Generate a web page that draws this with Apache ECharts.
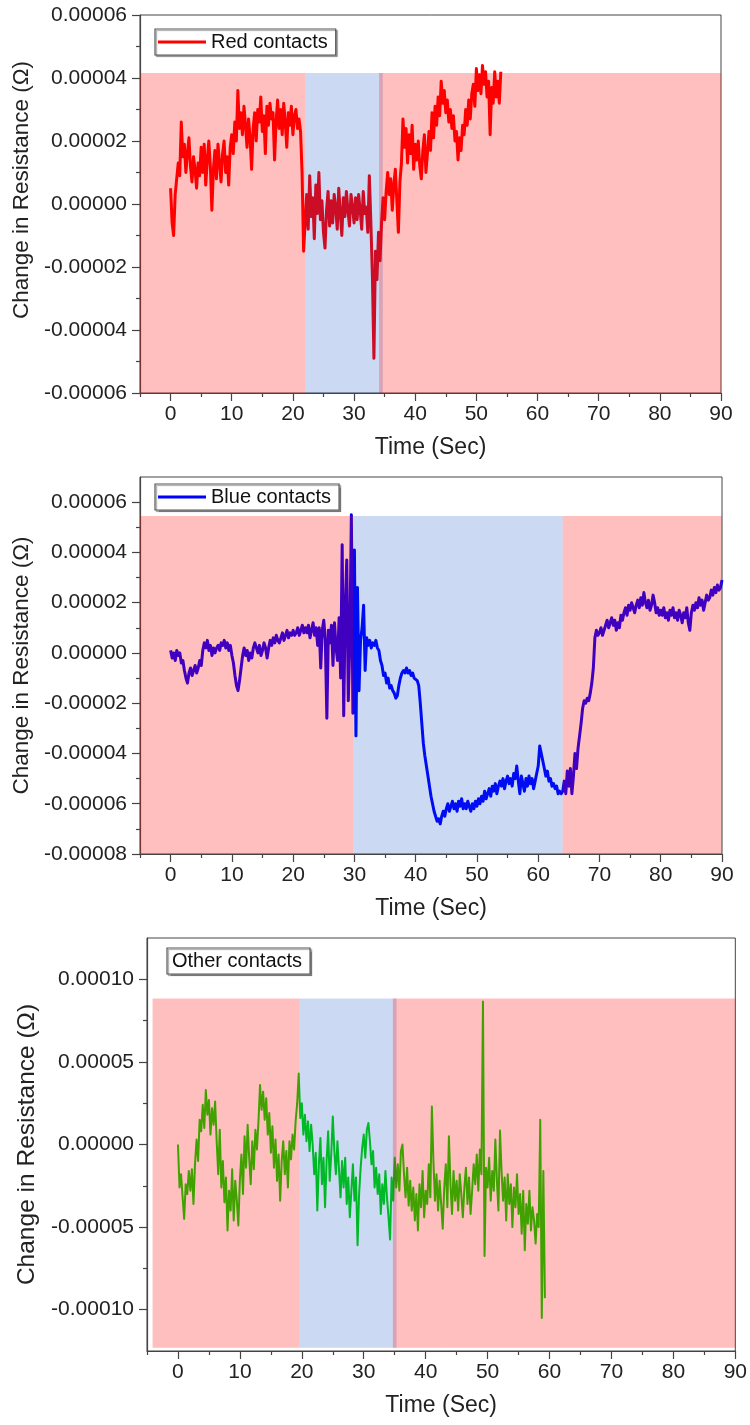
<!DOCTYPE html>
<html><head><meta charset="utf-8">
<script src="https://cdn.jsdelivr.net/npm/echarts@6/dist/echarts.min.js"></script>
<style>html,body{margin:0;padding:0;background:#fff}#c{width:750px;height:1425px}</style>
</head><body><div id="c"></div>
<script>
// All resistance values are in units of 1e-5 Ohm (axis labels convert to Ohm).
const xTicks = [0, 10, 20, 30, 40, 50, 60, 70, 80, 90];
const xMinor = [-5, 5, 15, 25, 35, 45, 55, 65, 75, 85];
const y1Ticks = [-6, -4, -2, 0, 2, 4, 6];
const y1Minor = [-5, -3, -1, 1, 3, 5];
const y2Ticks = [-8, -6, -4, -2, 0, 2, 4, 6];
const y2Minor = [-7, -5, -3, -1, 1, 3, 5];
const y3Ticks = [-10, -5, 0, 5, 10];
const y3Minor = [-7.5, -2.5, 2.5, 7.5];

// sampling step in seconds (first sample at t = 0)
const redStep = 0.25;
const redValues = [
  0.5, -0.6, -1.0, 0.3, 0.8,
  1.3, 0.9, 2.6, 1.5,
  1.9, 1.0, 1.6, 2.1, 1.2, 0.7, 1.5, 1.1, 0.5, 1.3, 0.9, 1.8,
  1.0, 1.9, 0.6, 1.4, 2.0, 1.2, -0.2, 1.1,
  1.7, 0.8, 1.9, 1.3, 0.7, 1.6, 2.0, 1.0, 1.5, 0.6, 1.8,
  2.2, 1.6, 2.6, 2.0, 3.6,
  2.4, 2.9, 2.2, 3.1, 2.5, 1.8, 2.7, 2.1,
  1.1, 2.4, 2.9, 2.0, 3.0, 2.6, 3.4, 2.3,
  2.8, 1.6, 3.1, 2.5, 3.2, 2.7, 2.9, 1.4,
  2.6, 3.3, 2.4, 3.0, 2.2, 3.2, 2.6, 1.8,
  2.9, 2.5, 3.1, 2.2, 2.8, 3.0, 2.4, 2.7,
  2.3, 1.0, -1.5, -0.6,
  0.3, -0.8, 0.9, -0.4, 0.2, -1.1, 0.6, -0.3,
  1.0, -0.5, 0.1, -0.9, -1.4, -0.2, 0.4, -0.7,
  0.1, -0.6, 0.3, -0.1, -0.8, 0.5, -0.3, -1.0,
  0.2, -0.4, 0.4, -0.2, -0.7, 0.3, -0.1, -0.6,
  0.2, -0.5, 0.3, -0.2, -0.8, 0.4, -0.3, -0.1,
  -0.9, 0.9, -0.6, -2.3, -4.9, -1.5, -2.4, -0.9,
  -1.8, -0.6, 0.2, -0.5, 0.4, 1.0, 0.3, 0.8,
  -0.2, 0.6, 1.1, 0.1, -0.9, 0.7, 1.3, 2.7,
  1.8, 2.4, 1.3, 2.2, 1.6, 2.5, 1.1, 1.9,
  1.4, 2.0, 1.2, 0.8, 1.7, 2.2, 1.0, 1.6,
  2.3, 1.7, 2.9, 2.1, 3.1, 2.5, 3.4, 2.8,
  3.9, 3.2, 3.6, 2.9, 3.3, 2.6, 3.0, 2.4,
  2.8, 2.0, 2.3, 1.4, 2.1, 1.7, 2.5, 2.2,
  3.0, 2.5, 3.3, 2.7, 3.5, 3.8, 3.1, 4.3,
  3.6, 4.1, 3.5, 4.4, 3.8, 4.2, 3.4, 3.9,
  2.2, 3.7, 3.2, 4.2, 3.4, 3.9, 3.2, 4.2
];

const blueStep = 0.25;
const blueValues = [
  0.1, -0.2, 0.0, -0.3, 0.1, -0.1, 0.0, -0.4,
  -0.3, -0.7, -1.0, -1.2, -0.8, -0.6, -0.9, -0.7,
  -0.5, -0.8, -0.6, -0.3, -0.5, 0.1, 0.4, 0.2,
  0.5, 0.1, 0.3, -0.1, 0.2, 0.0, 0.2, 0.3,
  0.1, 0.4, 0.3, 0.5, 0.2, 0.4, 0.1, 0.3,
  -0.1, -0.4, -0.9, -1.3, -1.5, -1.1, -0.6, -0.1,
  0.2, -0.1, 0.1, -0.3, 0.0, -0.2, 0.2, 0.4,
  0.2, 0.0, 0.3, -0.1, 0.1, 0.4, 0.2, -0.2,
  0.2, 0.5, 0.3, 0.6, 0.4, 0.7, 0.5, 0.4,
  0.6, 0.8, 0.5, 0.7, 0.9, 0.6, 0.8, 0.7,
  0.9, 0.7, 0.8, 1.0, 0.7, 0.9, 1.1, 0.8,
  1.0, 0.8, 1.1, 0.6, 0.9, 1.2, 0.7, 1.0,
  0.3, 1.0, -0.6, 0.9, 1.3, 0.5, -2.6, 0.9,
  0.4, 1.1, -0.5, 1.2, 0.2, -0.3, 1.4, -1.0,
  4.3, -2.5, 1.8, 3.7, -1.9, 0.5, 5.5, -2.4,
  4.1, -3.3, 2.6, -1.5, 0.5, 1.0, 1.9, -0.7,
  0.6, 0.3, 0.5, 0.2, 0.4, 0.3, 0.5, 0.2,
  0.1, -0.3, -0.5, -0.9, -0.8, -1.2, -1.0, -1.4,
  -1.3, -1.5, -1.6, -1.8, -1.7, -1.3, -1.0, -0.8,
  -0.7, -0.8, -0.6, -0.8, -0.7, -0.9, -0.8, -1.0,
  -1.0, -1.1, -1.3, -2.0, -2.8, -3.6, -4.1, -4.5,
  -4.9, -5.3, -5.7, -6.0, -6.3, -6.5, -6.7, -6.6,
  -6.8, -6.5, -6.3, -6.5, -6.2, -6.0, -6.3, -6.1,
  -5.9, -6.2, -6.0, -6.3, -5.9, -6.1, -5.8, -6.2,
  -6.0, -6.2, -5.9, -6.1, -6.3, -6.0, -6.2, -5.9,
  -6.1, -5.8, -6.0, -5.7, -5.9, -5.5, -5.8, -5.6,
  -5.4, -5.7, -5.3, -5.5, -5.2, -5.6, -5.3, -5.1,
  -5.3, -5.0, -5.4, -5.1, -4.9, -5.2, -5.0, -5.3,
  -4.8, -5.0, -4.5, -5.1, -5.6, -4.9, -5.2, -5.5,
  -5.0, -5.3, -4.9, -5.2, -5.0, -5.4, -5.1, -4.8,
  -4.5, -3.7, -4.0, -4.3, -4.6, -4.9, -4.7, -5.1,
  -5.0, -5.3, -5.2, -5.4, -5.3, -5.6, -5.5, -5.6,
  -5.5, -5.1, -5.6, -4.7, -5.3, -4.6, -5.6, -4.9,
  -4.0, -4.6, -3.8, -3.3, -2.8, -2.2, -1.9, -2.0,
  -1.8, -1.9, -1.6, -1.2, -0.6, 0.6, 0.9, 0.7,
  0.8, 1.0, 0.7, 0.9, 1.1, 1.3, 1.0, 1.2,
  1.4, 1.1, 1.3, 0.9, 1.2, 1.0, 1.5, 1.3,
  1.6, 1.8, 1.5, 1.9, 1.7, 2.0, 1.8, 1.6,
  1.9, 2.1, 1.8, 2.2, 1.9, 2.4, 2.0, 1.8,
  2.1, 1.7, 1.9, 2.3, 2.0, 1.6, 1.8, 1.5,
  1.7, 1.5, 1.8, 1.4, 1.6, 1.3, 1.7, 1.5,
  1.8, 1.4, 1.6, 1.3, 1.7, 1.5, 1.2, 1.6,
  1.4, 1.8, 1.2, 0.9, 1.6, 1.9, 1.7, 2.0,
  1.8, 2.2, 1.9, 2.1, 1.7, 2.0, 2.3, 2.1,
  2.2, 2.5, 2.3, 2.6, 2.4, 2.7, 2.5, 2.6,
  2.9
];

const otherStep = 0.25;
const otherValues = [
  0.0, -2.6, -1.8, -3.2, -4.5, -2.4, -3.0, -1.6,
  -2.8, -1.5, -3.6, -1.2, 0.3, -1.0, 1.5, 0.8,
  2.4, 1.0, 3.3, 1.8, 2.7, 0.6, 2.2, 1.2,
  2.6, 0.2, -1.8, 0.9, -2.6, -1.0, -3.5, -2.0,
  -5.2, -2.8, -4.0, -1.5, -4.6, -2.2, -3.4, -4.9,
  -2.1, -0.6, -3.0, 0.5, -1.4, 1.2, -0.8, -2.4,
  0.2, -1.5, 0.9, -0.3, 1.4, 3.6, 2.1, 3.2,
  1.5, 2.8, 0.6, 1.9, -0.5, 1.1, -1.4, 0.3,
  -2.2, -0.6, -3.4, -1.0, 0.2, -1.8, -0.4, -2.6,
  0.2, -0.9, 0.6, -0.3, 1.4, 2.5, 4.3, 1.6,
  2.5, 0.6, 1.8, 0.2, 1.4, -0.4, 1.2, 0.0,
  -1.8, -0.5, -4.0, -1.2, 0.4, -2.4, -0.8, -3.8,
  -1.0, 0.8, -2.2, -0.6, 1.7, -0.4, -1.8, 0.2,
  -1.5, -3.2, -1.0, -2.6, -0.8, -3.6, -2.0, -4.4,
  -2.8, -1.2, -3.4, -2.0, -6.1, -3.0, -1.4, -0.2,
  0.6, -0.8, 0.9, 1.3, 0.2, -1.2, -0.4, -2.6,
  -1.4, -3.0, -1.8, -4.2, -2.4, -3.6, -1.6, -3.2,
  -4.4, -5.75, -2.0, -3.4, -0.8, -2.6, -1.2, -2.8,
  -0.4, 0.0, -1.8, -3.2, -1.4, -3.7, -2.2, -4.0,
  -2.6, -4.6, -3.0, -5.2, -2.4, -3.8, -1.6, -4.4,
  -2.8, -3.6, -1.2, -3.2, 2.3, -1.0, -3.4, -1.8,
  -4.0, -2.2, -3.6, -5.1, -2.6, -1.2, -3.8, 0.5,
  -2.4, -4.2, -1.6, -3.4, -2.2, -4.0, -1.8, -3.0,
  -4.4, -2.6, -1.4, -3.6, -2.0, -4.2, -2.8, -1.2,
  -2.4, -0.6, -2.8, -0.3, -1.8, 8.65, -6.75, -1.4,
  -2.6, -0.8, -3.4, -1.6, -2.8, 0.3, -2.2, -4.0,
  0.85, -1.6, -3.4, -2.0, -4.6, -1.8, -3.6, -2.4,
  -5.0, -2.6, -3.8, -1.8, -4.2, -3.0, -5.4, -2.8,
  -6.4, -3.6, -4.8, -2.8, -5.2, -3.8, -4.6, -6.0,
  -4.2, -5.0, 1.5, -10.5, -1.6, -9.3
];

// shaded periods: [tStart, tEnd, yLow, yHigh, kind]  kind 0 = red zone, 1 = blue zone
const redRegions = [[-5, 22, -6, 4.16, 0], [22, 34.7, -6, 4.16, 1], [34.1, 90, -6, 4.16, 0]];
const blueRegions = [[-5, 29.8, -8, 5.45, 0], [29.8, 64, -8, 5.45, 1], [64, 90, -8, 5.45, 0]];
const otherRegions = [[-4.1, 19.6, -12.3, 8.84, 0], [19.6, 35.3, -12.3, 8.84, 1], [34.7, 90, -12.3, 8.84, 0]];

const FONT = 'Liberation Sans';
const AX = '#444';
const ZONE_FILL = ['rgba(255,0,0,0.25)', 'rgba(0,64,192,0.2)'];

const panels = [
  { grid: {left: 140, top: 15, width: 581, height: 378}, yMin: -6, yMax: 6, yTicks: y1Ticks, yMinor: y1Minor,
    name: 'Red contacts', color: '#ff0000', lw: 3, step: redStep, values: redValues, regions: redRegions,
    yNameSize: 22.5, yNamePad: [0, 0, 0, 28], legend: {left: 155, top: 29}, icon: 'rect' },
  { grid: {left: 140, top: 477, width: 582, height: 377}, yMin: -8, yMax: 7, yTicks: y2Ticks, yMinor: y2Minor,
    name: 'Blue contacts', color: '#0000ff', lw: 3, step: blueStep, values: blueValues, regions: blueRegions,
    yNameSize: 22.5, yNamePad: [0, 0, 0, 0], legend: {left: 155, top: 484}, icon: 'rect' },
  { grid: {left: 147, top: 938, width: 591, height: 413}, yMin: -12.5, yMax: 12.5, yTicks: y3Ticks, yMinor: y3Minor,
    name: 'Other contacts', color: 'rgb(0,215,0)', lw: 2, step: otherStep, values: otherValues, regions: otherRegions,
    yNameSize: 24.5, yNamePad: [0, 0, 0, 0], legend: {left: 167, top: 948}, icon: 'none' }
];

const option = {
  animation: false, backgroundColor: '#ffffff',
  textStyle: {fontFamily: FONT},
  grid: [], xAxis: [], yAxis: [], series: [], legend: []
};

panels.forEach((p, i) => {
  option.grid.push(Object.assign({show: true, borderColor: AX, borderWidth: 1, backgroundColor: 'rgba(0,0,0,0)'}, p.grid));
  option.xAxis.push({
    type: 'value', gridIndex: i, min: -5, max: 90, position: 'bottom',
    name: 'Time (Sec)', nameLocation: 'middle', nameGap: 43,
    nameTextStyle: {fontSize: 23, color: '#222', fontFamily: FONT},
    axisLine: {show: true, onZero: false, lineStyle: {color: AX, width: 1.2}},
    axisTick: {show: true, inside: false, length: 8, customValues: xTicks, lineStyle: {color: AX, width: 1.2}},
    axisLabel: {show: true, customValues: xTicks, margin: 11, fontSize: 21, color: '#222', fontFamily: FONT},
    splitLine: {show: false}
  });
  option.xAxis.push({
    type: 'value', gridIndex: i, min: -5, max: 90, position: 'bottom',
    axisLine: {show: false, onZero: false},
    axisTick: {show: true, inside: false, length: 4, customValues: xMinor, lineStyle: {color: AX, width: 1.2}},
    axisLabel: {show: false}, splitLine: {show: false}
  });
  option.yAxis.push({
    type: 'value', gridIndex: i, min: p.yMin, max: p.yMax, position: 'left',
    name: 'Change in Resistance (\u03A9)', nameLocation: 'middle', nameGap: 103, nameRotate: 90,
    nameTextStyle: {fontSize: p.yNameSize, color: '#222', fontFamily: FONT, padding: p.yNamePad},
    axisLine: {show: true, onZero: false, lineStyle: {color: AX, width: 1.2}},
    axisTick: {show: true, inside: false, length: 8, customValues: p.yTicks, lineStyle: {color: AX, width: 1.2}},
    axisLabel: {show: true, customValues: p.yTicks, margin: 13, fontSize: 21, color: '#222', fontFamily: FONT,
      formatter: v => (v / 1e5).toFixed(5)},
    splitLine: {show: false}
  });
  option.yAxis.push({
    type: 'value', gridIndex: i, min: p.yMin, max: p.yMax, position: 'left',
    axisLine: {show: false, onZero: false},
    axisTick: {show: true, inside: false, length: 4, customValues: p.yMinor, lineStyle: {color: AX, width: 1.2}},
    axisLabel: {show: false}, splitLine: {show: false}
  });
  option.series.push({
    type: 'line', name: p.name, xAxisIndex: 2 * i, yAxisIndex: 2 * i, z: 2,
    showSymbol: false, symbol: 'none', sampling: null, clip: true,
    lineStyle: {color: p.color, width: p.lw, join: 'round'}, itemStyle: {color: p.color},
    data: p.values.map((v, k) => [k * p.step, v])
  });
  const regs = p.regions;
  option.series.push({
    type: 'custom', xAxisIndex: 2 * i, yAxisIndex: 2 * i, z: 5, silent: true, clip: true,
    data: regs.map(r => [r[0], r[1], r[2], r[3]]),
    encode: {x: [0, 1], y: [2, 3]},
    renderItem: (params, api) => {
      const a = api.coord([api.value(0), api.value(3)]);
      const b = api.coord([api.value(1), api.value(2)]);
      return {type: 'rect', shape: {x: a[0], y: a[1], width: b[0] - a[0], height: b[1] - a[1]},
        style: {fill: ZONE_FILL[regs[params.dataIndex][4]]}};
    }
  });
  option.legend.push({
    left: p.legend.left, top: p.legend.top, orient: 'horizontal',
    data: [{name: p.name, icon: p.icon}],
    itemWidth: p.icon === 'none' ? 0 : 48, itemHeight: p.icon === 'none' ? 0 : 3,
    padding: [3, 8, 3, p.icon === 'none' ? 0 : 3],
    borderColor: '#555', borderWidth: 1.2, backgroundColor: '#fff',
    shadowColor: 'rgba(0,0,0,0.35)', shadowOffsetX: 1.5, shadowOffsetY: 1.5, shadowBlur: 1,
    selectedMode: false,
    textStyle: {fontSize: 20, color: '#111', fontFamily: FONT}
  });
});

const chart = echarts.init(document.getElementById('c'), null, {renderer: 'canvas'});
chart.setOption(option);
</script>
</body></html>
